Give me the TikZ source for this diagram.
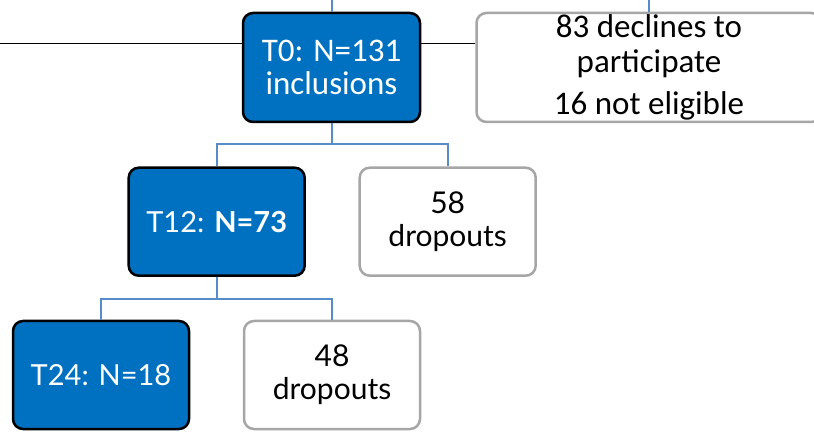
\documentclass[tikz,border=0pt]{standalone}
\usepackage{fontspec}
\setmainfont{Lato}
\newfontfamily\calfont{Carlito}
\definecolor{boxblue}{RGB}{0,112,192}
\definecolor{lineblue}{RGB}{86,140,200}
\definecolor{boxgray}{RGB}{166,166,166}
\tikzset{
  bluebox/.style={draw=black, line width=2.5pt, fill=boxblue, rounded corners=10pt,
    text=white, align=center, minimum width=176pt, minimum height=108pt, inner sep=0pt},
  graybox/.style={draw=boxgray, line width=2.5pt, fill=white, rounded corners=10pt,
    text=black, align=center, minimum width=176pt, minimum height=108pt, inner sep=0pt},
  conn/.style={draw=lineblue, line width=2pt},
  blackline/.style={draw=black, line width=1pt},
  topfont/.style={font=\calfont\fontsize{33}{33}\selectfont},
  exfont/.style={font=\calfont\fontsize{33}{35}\selectfont},
  lowfont/.style={font=\fontsize{29}{33}\selectfont},
  dropfont/.style={font=\fontsize{30}{33}\selectfont}
}
\begin{document}
\begin{tikzpicture}[x=1pt,y=1pt]
\clip (0,0) rectangle (814,434);
% nodes
\node[bluebox, topfont, minimum width=177pt, minimum height=109pt] (t0) at (331.5,366.5) {T0: N=131\\inclusions};
\node[graybox, exfont, minimum width=345pt, minimum height=109pt] (ex) at (649,366.5) {83 declines to\\participate\\[7pt]16 not eligible};
\node[bluebox, lowfont] (t12) at (216.7,212.3) {T12: \textbf{N=73}};
\node[graybox, dropfont] (d58) at (447.7,212.3) {58\\dropouts};
\node[bluebox, lowfont] (t24) at (101,59) {T24: N=18};
\node[graybox, dropfont] (d48) at (332,59) {48\\dropouts};
% free ends
\coordinate (topA) at (331.5,434);
\coordinate (topB) at (649,434);
\coordinate (left) at (0,390.5);
% top connectors
\draw[conn] (topA) -- (t0.north);
\draw[conn] (topB) -- (ex.north);
\draw[blackline] (left) -- (left -| t0.west);
\draw[blackline] (left -| t0.east) -- (left -| ex.west);
% tree connectors
\draw[conn] (t0.south) -- ++(0,-21) coordinate (j1) -| (t12.north);
\draw[conn] (j1) -| (d58.north);
\draw[conn] (t12.south) -- ++(0,-22) coordinate (j2) -| (t24.north);
\draw[conn] (j2) -| (d48.north);
\end{tikzpicture}
\end{document}
